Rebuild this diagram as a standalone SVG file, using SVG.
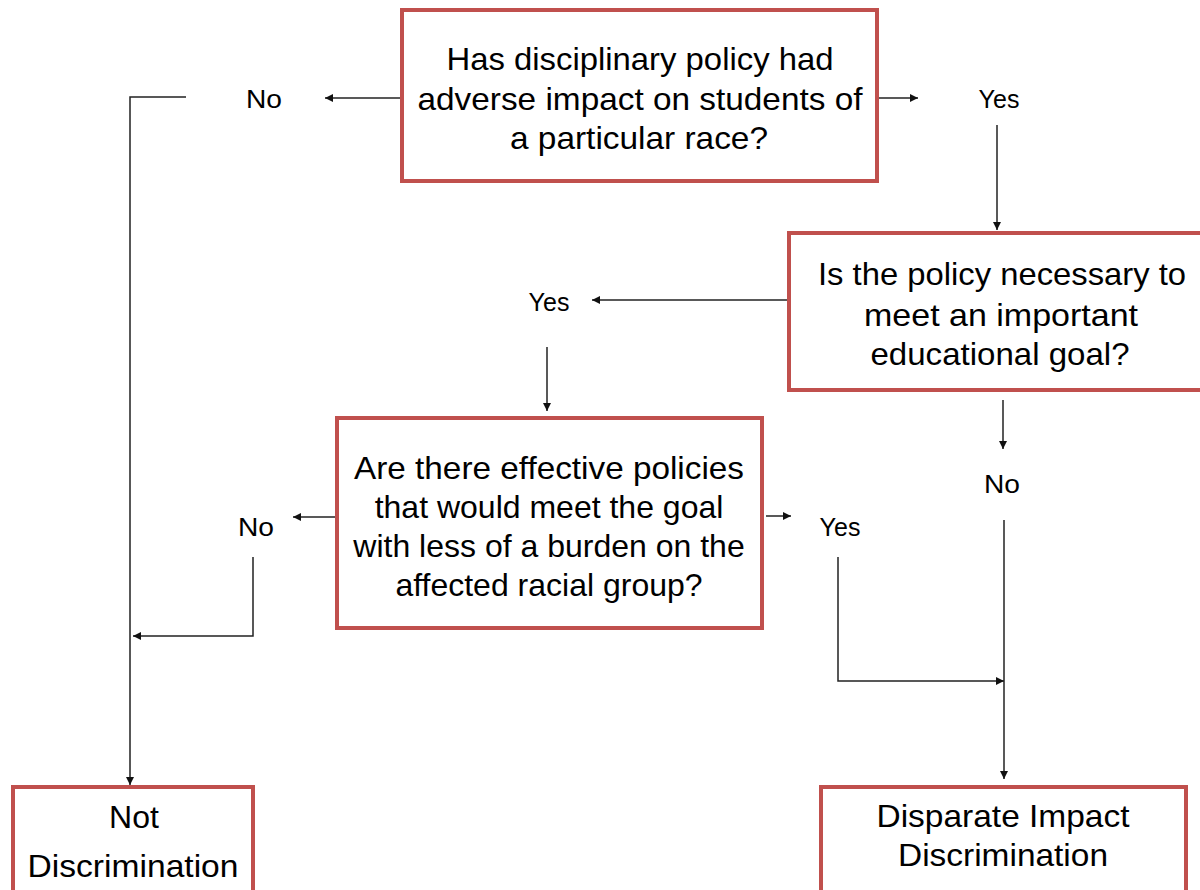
<svg xmlns="http://www.w3.org/2000/svg" width="1200" height="890" viewBox="0 0 1200 890">
<style>
.box{fill:#fff;stroke:#c0504d;stroke-width:4}
.t{font-family:"Liberation Sans",Arial,sans-serif;font-size:32px;fill:#000;text-anchor:middle}
.n{font-family:"Liberation Sans",Arial,sans-serif;font-size:32px;fill:#000;text-anchor:middle}
.lbl{font-family:"Liberation Sans",Arial,sans-serif;font-size:25px;fill:#000;text-anchor:middle}
.c{fill:none;stroke:#222;stroke-width:1.5}
</style>
<defs>
<marker id="ah" viewBox="0 0 10 10" refX="10" refY="5" markerWidth="8" markerHeight="8" markerUnits="userSpaceOnUse" orient="auto">
<path d="M0,0 L10,5 L0,10 z" fill="#111"/>
</marker>
</defs>
<rect width="1200" height="890" fill="#fff"/>
<g id="connectors">
<path class="c" d="M401,98 H325" marker-end="url(#ah)"/>
<path class="c" d="M186,97 H130 V785" marker-end="url(#ah)"/>
<path class="c" d="M878,98 H918" marker-end="url(#ah)"/>
<path class="c" d="M997,125 V230" marker-end="url(#ah)"/>
<path class="c" d="M788,300 H592" marker-end="url(#ah)"/>
<path class="c" d="M547,347 V411" marker-end="url(#ah)"/>
<path class="c" d="M336,517 H293" marker-end="url(#ah)"/>
<path class="c" d="M253,557 V636 H133" marker-end="url(#ah)"/>
<path class="c" d="M766,516 H791" marker-end="url(#ah)"/>
<path class="c" d="M838,557 V681 H1004" marker-end="url(#ah)"/>
<path class="c" d="M1003,400 V449" marker-end="url(#ah)"/>
<path class="c" d="M1004,520 V779" marker-end="url(#ah)"/>
</g>
<g id="labels">
<text class="lbl" x="264" y="108" textLength="36" lengthAdjust="spacingAndGlyphs">No</text>
<text class="lbl" x="999" y="108">Yes</text>
<text class="lbl" x="549" y="311">Yes</text>
<text class="lbl" x="256" y="536" textLength="36" lengthAdjust="spacingAndGlyphs">No</text>
<text class="lbl" x="840" y="536">Yes</text>
<text class="lbl" x="1002" y="493" textLength="36" lengthAdjust="spacingAndGlyphs">No</text>
</g>
<g id="q1">
<rect class="box" x="402" y="10" width="475" height="171"/>
<text class="t" x="640" y="70" textLength="387" lengthAdjust="spacingAndGlyphs">Has disciplinary policy had</text>
<text class="t" x="640" y="110" textLength="445" lengthAdjust="spacingAndGlyphs">adverse impact on students of</text>
<text class="t" x="639" y="149" textLength="258" lengthAdjust="spacingAndGlyphs">a particular race?</text>
</g>
<g id="q2">
<rect class="box" x="789" y="233" width="415" height="157"/>
<text class="n" x="1002" y="285" textLength="368" lengthAdjust="spacingAndGlyphs">Is the policy necessary to</text>
<text class="n" x="1001" y="326" textLength="274" lengthAdjust="spacingAndGlyphs">meet an important</text>
<text class="n" x="1000" y="365" textLength="259" lengthAdjust="spacingAndGlyphs">educational goal?</text>
</g>
<g id="q3">
<rect class="box" x="337" y="418" width="425" height="210"/>
<text class="t" x="549" y="479" textLength="390" lengthAdjust="spacingAndGlyphs">Are there effective policies</text>
<text class="t" x="549" y="518">that would meet the goal</text>
<text class="t" x="549" y="557">with less of a burden on the</text>
<text class="t" x="549" y="596">affected racial group?</text>
</g>
<g id="notdisc">
<rect class="box" x="13" y="787" width="240" height="110"/>
<text class="t" x="134" y="828">Not</text>
<text class="t" x="133" y="877" textLength="211" lengthAdjust="spacingAndGlyphs">Discrimination</text>
</g>
<g id="disparate">
<rect class="box" x="821" y="787" width="365" height="110"/>
<text class="t" x="1003" y="827" textLength="253" lengthAdjust="spacingAndGlyphs">Disparate Impact</text>
<text class="t" x="1003" y="866" textLength="210" lengthAdjust="spacingAndGlyphs">Discrimination</text>
</g>
</svg>
